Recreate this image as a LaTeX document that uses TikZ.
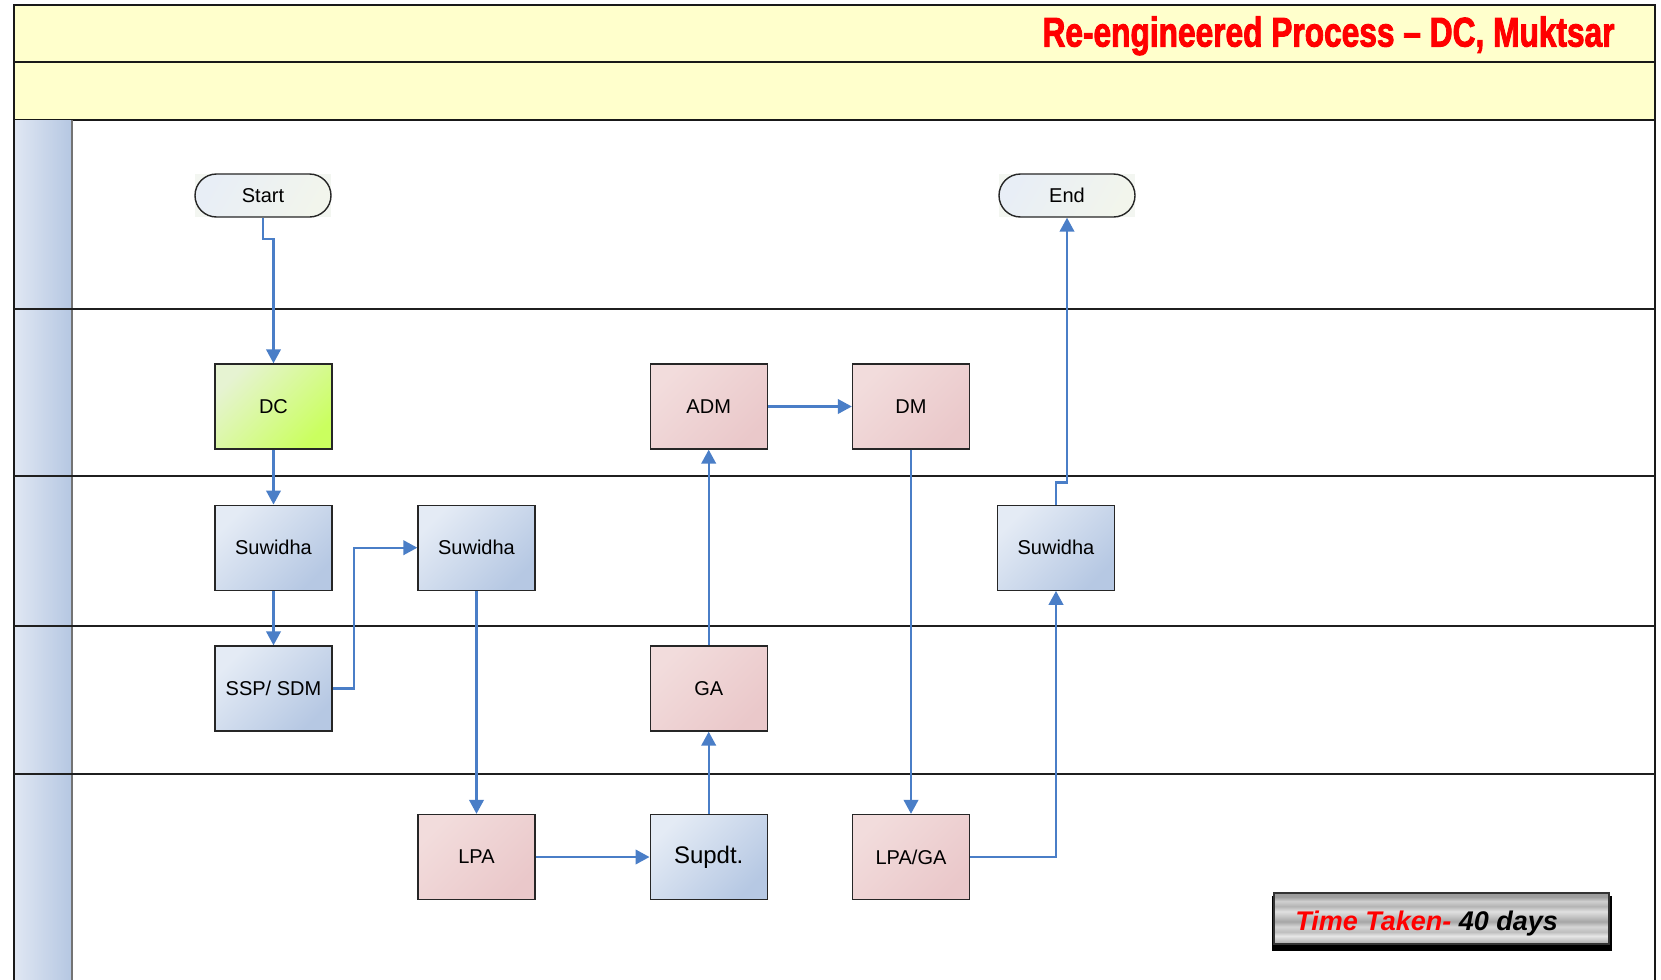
\documentclass[tikz,border=0pt]{standalone}
\usepackage{fontspec}
\setmainfont{Liberation Sans}
\newfontfamily\titlefont{Liberation Sans}[BoldFeatures={FakeBold=2.5}]
\usepackage{graphicx}
\usetikzlibrary{shapes.misc,arrows.meta}

\definecolor{bandyellow}{RGB}{255,255,204}
\definecolor{flowblue}{RGB}{74,126,199}
\definecolor{lanelight}{RGB}{224,231,243}
\definecolor{lanedark}{RGB}{181,199,226}
\definecolor{bluelight}{RGB}{228,235,245}
\definecolor{bluedark}{RGB}{182,200,227}
\definecolor{pinklight}{RGB}{242,220,220}
\definecolor{pinkdark}{RGB}{234,200,202}
\definecolor{greenlight}{RGB}{230,243,210}
\definecolor{greendark}{RGB}{202,255,95}
\definecolor{termlight}{RGB}{232,238,246}
\definecolor{termdark}{RGB}{242,245,236}
\definecolor{termback}{RGB}{243,246,241}
\definecolor{mA}{RGB}{168,168,168}
\definecolor{mB}{RGB}{200,200,200}
\definecolor{mC}{RGB}{230,230,230}
\definecolor{mD}{RGB}{190,190,190}
\definecolor{mE}{RGB}{214,214,214}
\definecolor{mF}{RGB}{166,166,166}
\definecolor{mG}{RGB}{196,196,196}
\definecolor{mH}{RGB}{224,224,224}
\definecolor{mI}{RGB}{180,180,180}
\definecolor{mJ}{RGB}{208,208,208}
\definecolor{mK}{RGB}{160,160,160}
\definecolor{mL}{RGB}{154,154,154}

% horizontal streaks of a brushed metal plate
\pgfdeclareverticalshading{brushedmetal}{100bp}{
  color(0bp)=(mA); color(25bp)=(mA); color(29bp)=(mB); color(33bp)=(mC);
  color(37bp)=(mD); color(42bp)=(mE); color(47bp)=(mF); color(52bp)=(mG);
  color(57bp)=(mH); color(62bp)=(mI); color(67bp)=(mJ); color(71bp)=(mK);
  color(75bp)=(mL); color(100bp)=(mL)}

\begin{document}
\begin{tikzpicture}[x=0.5pt,y=-0.5pt,
  frameline/.style={line width=1pt,draw=black!90},
  laneline/.style={line width=1pt,draw=black!88},
  flow/.style={draw=flowblue,line width=1.1pt,-{Triangle[length=7pt,width=7.3pt]}},
  task/.style={draw=black!85,line width=0.7pt,minimum width=58.5pt,
    minimum height=42.5pt,inner sep=0pt,font=\fontsize{10}{12}\selectfont},
  bluetask/.style={task,top color=bluelight,bottom color=bluedark,shading angle=45},
  pinktask/.style={task,top color=pinklight,bottom color=pinkdark,shading angle=45},
  greentask/.style={task,top color=greenlight,bottom color=greendark,shading angle=45},
  terminal/.style={rounded rectangle,draw=black!85,line width=0.7pt,
    minimum width=68pt,minimum height=21.5pt,inner sep=0pt,
    font=\fontsize{10}{12}\selectfont,
    top color=termlight,bottom color=termdark,shading angle=60},
  termbox/.style={rectangle,fill=termback,minimum width=68pt,
    minimum height=21.5pt,inner sep=0pt},
  lanehead/.style={left color=lanelight,right color=lanedark}
]
\useasboundingbox (0,0) rectangle (1661,980);
\fill[white] (0,0) rectangle (1661,980);

% title bands
\fill[bandyellow] (14,5) rectangle (1655,120);
\draw[frameline] (14,5) rectangle (1655,61.5);
\draw[frameline] (14,61.5) rectangle (1655,120);
\node[anchor=base east,inner sep=0pt,text=red] (title) at (1615,46.5)
  {\resizebox{286pt}{15pt}{\titlefont\bfseries Re-engineered Process \textendash\ DC, Muktsar}};

% swimlane header column
\shade[lanehead] (14,120) rectangle (72,309);
\shade[lanehead] (14,309) rectangle (72,476);
\shade[lanehead] (14,476) rectangle (72,625.5);
\shade[lanehead] (14,625.5) rectangle (72,774);
\shade[lanehead] (14,774) rectangle (72,980);
\draw[line width=0.6pt,draw=black!55] (72,120) -- (72,980);

% swimlane borders
\draw[frameline] (14,120) -- (14,980);
\draw[frameline] (1655,120) -- (1655,980);
\foreach \yy in {309,476,625.5,774}
  \draw[laneline] (14,\yy) -- (1655,\yy);

% terminals
\node[termbox] (startbg) at (263,195.5) {};
\node[terminal] (start) at (263,195.5) {Start};
\node[termbox] (endbg) at (1067,195.5) {};
\node[terminal] (end) at (1067,195.5) {End};

% process steps
\node[greentask] (dc)    at (273.5,406.5) {DC};
\node[pinktask]  (adm)   at (708.7,406.5) {ADM};
\node[pinktask]  (dm)    at (911,406.5)   {DM};
\node[bluetask]  (suw1)  at (273.5,547.7) {Suwidha};
\node[bluetask]  (suw2)  at (476.5,547.7) {Suwidha};
\node[bluetask]  (suw3)  at (1056,547.7)  {Suwidha};
\node[bluetask]  (ssp)   at (273.5,688.5) {SSP/ SDM};
\node[pinktask]  (ga)    at (708.7,688.5) {GA};
\node[pinktask]  (lpa)   at (476.5,857)   {LPA};
\node[bluetask,font=\fontsize{12}{14}\selectfont] (supdt) at (708.7,857) {Supdt.};
\node[pinktask]  (lpaga) at (911,857)     {LPA/GA};

% flow connectors
\draw[flow] (start.south) -- ++(0,21) -| (dc.north);
\draw[flow] (dc) -- (suw1);
\draw[flow] (suw1) -- (ssp);
\draw[flow] (ssp.east) -- ++(21,0) |- (suw2.west);
\draw[flow] (suw2) -- (lpa);
\draw[flow] (lpa) -- (supdt);
\draw[flow] (supdt) -- (ga);
\draw[flow] (ga) -- (adm);
\draw[flow] (adm) -- (dm);
\draw[flow] (dm) -- (lpaga);
\draw[flow] (lpaga.east) -| (suw3.south);
\draw[flow] (suw3.north) -- ++(0,-22) -| (end.south);

% time taken plate
\fill[black] (1272,896) rectangle (1612,951);
\shade[shading=brushedmetal,draw=black!80,line width=0.6pt] (1274,893) rectangle (1609,944);
\node[anchor=base west,inner sep=0pt,font=\fontsize{13.5}{16}\selectfont\bfseries\itshape]
  (timetaken) at (1295,930) {\textcolor{red}{Time Taken-} 40 days};
\end{tikzpicture}
\end{document}
